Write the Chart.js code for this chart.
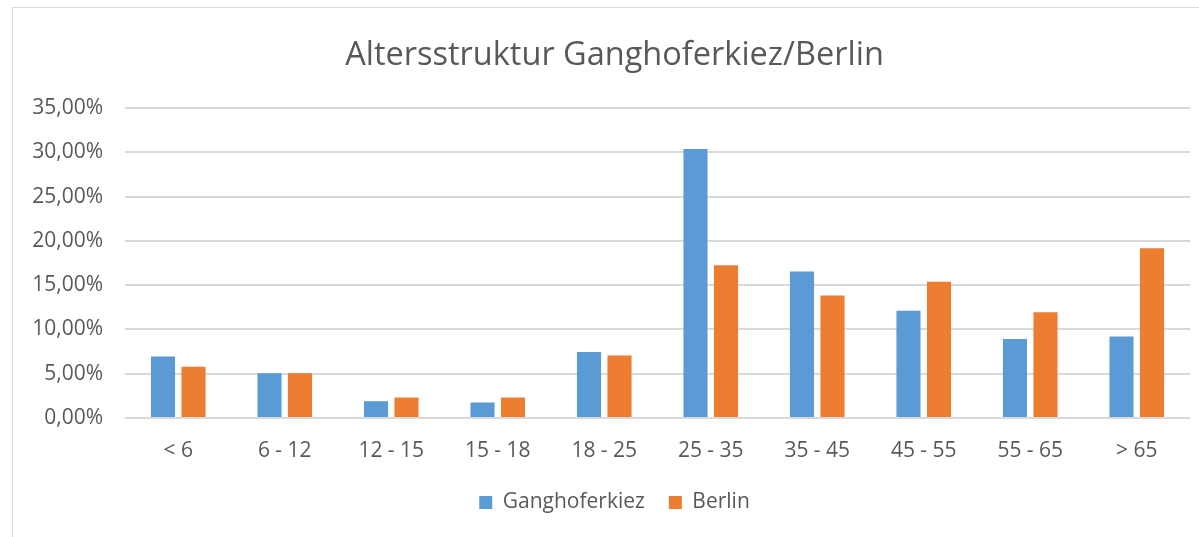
<!DOCTYPE html>
<html>
<head>
<meta charset="utf-8">
<script src="https://cdn.jsdelivr.net/npm/chart.js@4.4.1/dist/chart.umd.min.js"></script>
<style>
  html, body { margin: 0; padding: 0; background: #fff; overflow: hidden; }
  #frame {
    position: absolute; left: 12px; top: 7px;
    width: 1203px; height: 535px;
    border: 1px solid #d9d9d9;
  }
  #wrap { position: absolute; left: 0; top: 0; width: 1203px; height: 535px; }
</style>
</head>
<body>
<div id="frame"><div id="wrap"><canvas id="ageChart"></canvas></div></div>
<script>
// Altersgruppen
const categories = ['< 6', '6 - 12', '12 - 15', '15 - 18', '18 - 25', '25 - 35', '35 - 45', '45 - 55', '55 - 65', '> 65'];
// Anteile in Prozent
const ganghoferkiez = [6.95, 5.04, 1.90, 1.75, 7.46, 30.37, 16.54, 12.10, 8.92, 9.19];
const berlin = [5.78, 5.04, 2.31, 2.31, 7.06, 17.26, 13.82, 15.39, 11.95, 19.16];
const yTicks = [0, 5, 10, 15, 20, 25, 30, 35];

const textColor = '#595959';
const gridColor = '#d9d9d9';
const fontFamily = "'Open Sans', sans-serif";

const ctx = document.getElementById('ageChart').getContext('2d');
new Chart(ctx, {
    type: 'bar',
    data: {
        labels: categories,
        datasets: [{
            label: 'Ganghoferkiez',
            data: ganghoferkiez,
            backgroundColor: '#5b9bd5',
            borderWidth: 0,
            categoryPercentage: 0.573,
            barPercentage: 0.79
        }, {
            label: 'Berlin',
            data: berlin,
            backgroundColor: '#ed7d31',
            borderWidth: 0,
            categoryPercentage: 0.573,
            barPercentage: 0.79
        }]
    },
    options: {
        responsive: true,
        maintainAspectRatio: false,
        animation: false,
        layout: {
            padding: { left: 0, right: 0, top: 0, bottom: 20 }
        },
        plugins: {
            title: {
                display: true,
                text: 'Altersstruktur Ganghoferkiez/Berlin',
                color: textColor,
                font: { family: fontFamily, size: 32.5, weight: 'normal' },
                padding: { top: 28, bottom: 33 }
            },
            legend: {
                position: 'bottom',
                labels: {
                    color: textColor,
                    font: { family: fontFamily, size: 21 },
                    boxWidth: 13,
                    boxHeight: 13,
                    padding: 24
                }
            },
            tooltip: { enabled: false }
        },
        scales: {
            x: {
                grid: { display: false },
                border: { display: false },
                ticks: {
                    color: textColor,
                    font: { family: fontFamily, size: 21 },
                    padding: 12
                },
                afterFit: function(scale) { scale.height = 50; }
            },
            y: {
                min: 0,
                max: 35,
                afterBuildTicks: function(scale) {
                    scale.ticks = yTicks.map(v => ({ value: v }));
                },
                grid: { color: gridColor, lineWidth: 2, drawTicks: false },
                border: { display: false },
                ticks: {
                    color: textColor,
                    font: { family: fontFamily, size: 21 },
                    padding: 22,
                    callback: function(value) {
                        return value.toFixed(2).replace('.', ',') + '%';
                    }
                },
                afterFit: function(scale) { scale.width = 112; }
            },
            // empty spacer on the right so the title stays centred on the frame
            spacer: {
                type: 'linear',
                position: 'right',
                grid: { display: false },
                border: { display: false },
                ticks: { display: false },
                afterFit: function(scale) { scale.width = 26; }
            }
        }
    }
});
</script>
</body>
</html>
